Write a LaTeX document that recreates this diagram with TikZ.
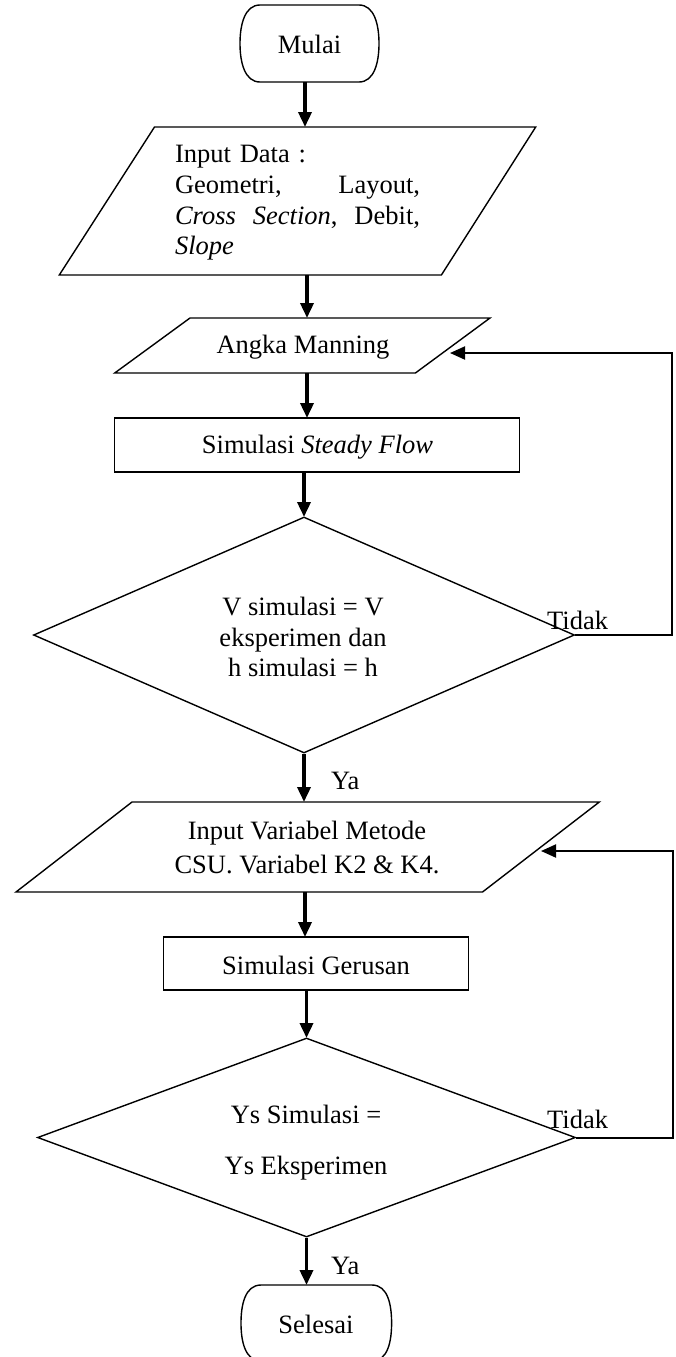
\documentclass[tikz,border=0pt]{standalone}
\usepackage{fontspec}
\setmainfont{Liberation Serif}
\usetikzlibrary{arrows.meta,shapes.geometric}
\begin{document}
\begin{tikzpicture}[x=1pt,y=-1pt,
  box/.style={draw,line width=1.4pt},
  txt/.style={font=\fontsize{26.5}{30.7}\selectfont, inner sep=0pt},
  arr/.style={line width=3.5pt,-{Triangle[length=15pt,width=13pt]}},
  back/.style={line width=2pt,-{Triangle[length=15pt,width=13pt]}},
]
\useasboundingbox (0,0) rectangle (675,1357);
\clip (0,0) rectangle (675,1357);

% ---- shapes ----
% Mulai terminal
\draw[box] (260,5) -- (359,5) .. controls (374,5) and (379,24) .. (379,43.5)
  .. controls (379,63) and (374,82) .. (359,82) -- (260,82)
  .. controls (245,82) and (240,63) .. (240,43.5)
  .. controls (240,24) and (245,5) .. (260,5) -- cycle;
% Input data parallelogram
\draw[box] (154.5,127) -- (535.7,127) -- (441.4,275) -- (59.3,275) -- cycle;
% Angka Manning parallelogram
\draw[box] (190,318) -- (490,318) -- (415.4,373) -- (114.7,373) -- cycle;
% Steady flow rectangle
\node[box, minimum width=404.6pt, minimum height=54pt, inner sep=0pt] (stbox) at (317,445) {};
% Decision 1
\node[box, diamond, minimum width=541pt, minimum height=236pt, inner sep=0pt] (d1) at (304,635) {};
% Input variabel parallelogram
\draw[box] (132,802) -- (599.3,802) -- (482.5,892) -- (16,892) -- cycle;
% Gerusan rectangle
\node[box, minimum width=304.6pt, minimum height=53pt, inner sep=0pt] (gebox) at (315.9,963.5) {};
% Decision 2
\node[box, diamond, minimum width=538pt, minimum height=199pt, inner sep=0pt] (d2) at (306.5,1137.5) {};
% Selesai terminal
\draw[box] (261,1285) -- (372,1285) .. controls (388,1285) and (391.6,1305) .. (391.6,1323)
  .. controls (391.6,1341) and (388,1361) .. (372,1361) -- (261,1361)
  .. controls (245,1361) and (241,1341) .. (241,1323)
  .. controls (241,1305) and (245,1285) .. (261,1285) -- cycle;

% ---- texts ----
\node[txt] (mulai) at (309.5,44) {Mulai};
\node[txt, text width=245pt, align=left] (inp) at (297.5,203)
  {Input Data :\\ Geometri,\hfill Layout,\\ \textit{Cross}\hfill\textit{Section},\hfill Debit,\\ \textit{Slope}};
\node[txt] (angka) at (303,347) {Angka Manning};
\node[txt] (steady) at (317.5,447) {Simulasi \textit{Steady Flow}};
\node[txt, align=center] (d1t) at (303,637) {V simulasi = V\\ eksperimen dan\\ h simulasi = h};
\node[txt, anchor=west] (tidak1) at (547,620) {Tidak};
\node[txt, anchor=west] (ya1) at (331,781) {Ya};
\node[txt, align=center, font=\fontsize{26.5}{34}\selectfont] (iv) at (307,847)
  {Input Variabel Metode\\ CSU. Variabel K2 \& K4.};
\node[txt] (gerusan) at (316,965) {Simulasi Gerusan};
\node[txt, align=center, font=\fontsize{26.5}{51}\selectfont] (d2t) at (306,1143)
  {Ys Simulasi =\\ Ys Eksperimen};
\node[txt, anchor=west] (tidak2) at (547,1119) {Tidak};
\node[txt, anchor=west] (ya2) at (331,1266) {Ya};
\node[txt] (selesai) at (316,1324) {Selesai};

% ---- connection points ----
\coordinate (mulaiS) at (305,82);
\coordinate (inpN) at (305,127);
\coordinate (inpS) at (307,275);
\coordinate (angN) at (307,318);
\coordinate (angS) at (307,373);
\coordinate (stN) at (307,418);
\coordinate (stS) at (304,472);
\coordinate (d1N) at (304,517);
\coordinate (ivN) at (304,802);
\coordinate (ivS) at (305,892);
\coordinate (geN) at (305,937);
\coordinate (geS) at (306.5,990);
\coordinate (d2N) at (306.5,1038);
\coordinate (selN) at (306.5,1285);
\coordinate (angR) at (450,353);
\coordinate (fb1a) at (671.6,635);
\coordinate (fb1b) at (671.6,353);
\coordinate (ivR) at (541,851);
\coordinate (fb2a) at (672.9,1137.5);
\coordinate (fb2b) at (672.9,851);

% ---- connectors ----
\draw[arr] (mulaiS) -- (inpN);
\draw[arr] (inpS) -- (angN);
\draw[arr] (angS) -- (stN);
\draw[arr] (stS) -- (d1N);
\draw[arr] (d1.south) -- (ivN);
\draw[arr] (ivS) -- (geN);
\draw[arr] (geS) -- (d2N);
\draw[arr] (d2.south) -- (selN);
\draw[back] (d1.east) -- (fb1a) -- (fb1b) -- (angR);
\draw[back] (d2.east) -- (fb2a) -- (fb2b) -- (ivR);
\end{tikzpicture}
\end{document}
